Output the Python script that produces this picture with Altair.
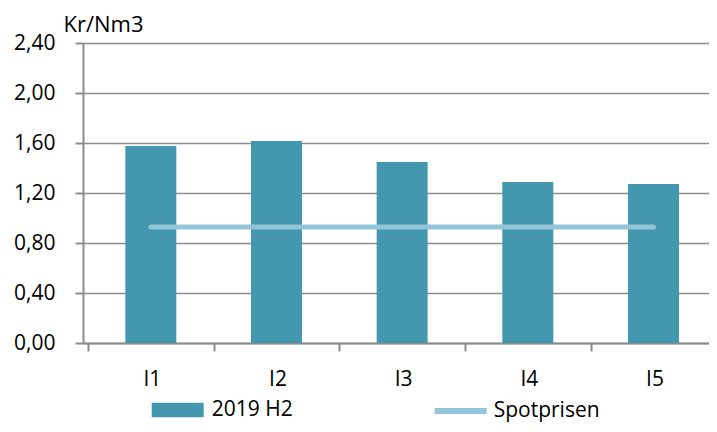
import json
import altair as alt
import pandas as pd

# ---- data ----
categories = ["I1", "I2", "I3", "I4", "I5"]
h2_2019 = [1.576, 1.616, 1.448, 1.288, 1.272]
spotprisen = [0.928, 0.928, 0.928, 0.928, 0.928]
y_ticks = [0.0, 0.4, 0.8, 1.2, 1.6, 2.0, 2.4]
series_bar = "2019 H2"
series_line = "Spotprisen"

BAR = "#4398b0"
LINE = "#93c4d7"
GRID = "#8c8c8c"
FONT = "Open Sans"

n = len(categories)
df = pd.DataFrame({
    "cat": categories,
    "pos": [i + 0.5 for i in range(n)],
    "h2": h2_2019,
    "spot": spotprisen,
    "s1": [series_bar] * n,
    "s2": [series_line] * n,
})

W, H = 626, 300
STEP = 127.7
x_max = W / STEP

x_enc = alt.X(
    "pos:Q",
    scale=alt.Scale(domain=[0, x_max], nice=False, zero=False),
    axis=alt.Axis(
        values=list(range(n)),
        labelExpr=json.dumps(categories).replace('"', "'") + "[datum.value]",
        labelOffset=STEP / 2,
        labelFlush=False,
        labelOverlap=False,
        grid=False,
        title=None,
        tickSize=8,
        labelPadding=17,
        labelBaseline="top",
        labelFontSize=21,
    ),
)

y_axis = alt.Axis(
    values=y_ticks,
    labelExpr="replace(format(datum.value, '.2f'), '.', ',')",
    title="Kr/Nm3",
    titleAngle=0,
    titleX=-20,
    titleY=-11.5,
    titleAlign="left",
    titleBaseline="alphabetic",
    titleFontSize=22,
    titleFontWeight="normal",
    tickSize=8,
    labelPadding=20,
    labelFontSize=21,
    grid=True,
    gridColor=GRID,
    gridWidth=1.6,
)
y_scale = alt.Scale(domain=[0, 2.4], nice=False, zero=True)

bars = alt.Chart(df).mark_bar(size=51).encode(
    x=x_enc,
    y=alt.Y("h2:Q", scale=y_scale, axis=y_axis),
    fill=alt.Fill(
        "s1:N",
        scale=alt.Scale(domain=[series_bar], range=[BAR]),
        legend=alt.Legend(
            title=None,
            orient="none",
            legendX=68.7,
            legendY=341,
            symbolType="M-1,-0.275L1,-0.275L1,0.275L-1,0.275Z",
            symbolSize=2704,
            symbolStrokeWidth=0,
            symbolOpacity=1,
            labelFontSize=21,
            labelFont=FONT,
            labelColor="#000000",
            labelOffset=8,
            padding=0,
        ),
    ),
)

line = alt.Chart(df).mark_line(strokeWidth=5, strokeCap="round").encode(
    x=x_enc,
    y=alt.Y("spot:Q", scale=y_scale, axis=y_axis),
    stroke=alt.Stroke(
        "s2:N",
        scale=alt.Scale(domain=[series_line], range=[LINE]),
        legend=alt.Legend(
            title=None,
            orient="none",
            legendX=348.7,
            legendY=339,
            symbolType="stroke",
            symbolSize=2704,
            symbolStrokeWidth=6,
            labelFontSize=21,
            labelFont=FONT,
            labelColor="#000000",
            labelOffset=4,
            padding=0,
        ),
    ),
)

chart = alt.layer(bars, line).properties(
    width=W,
    height=H,
    autosize=alt.AutoSizeParams(type="none"),
    padding={"left": 75, "top": 35, "right": 0, "bottom": 81},
).configure_view(
    stroke=None
).configure_axis(
    labelFont=FONT,
    titleFont=FONT,
    labelColor="#000000",
    titleColor="#000000",
    domainColor=GRID,
    domainWidth=2,
    tickColor=GRID,
    tickWidth=2,
)

chart.save("out.html", embed_options={"renderer": "svg", "actions": False})
